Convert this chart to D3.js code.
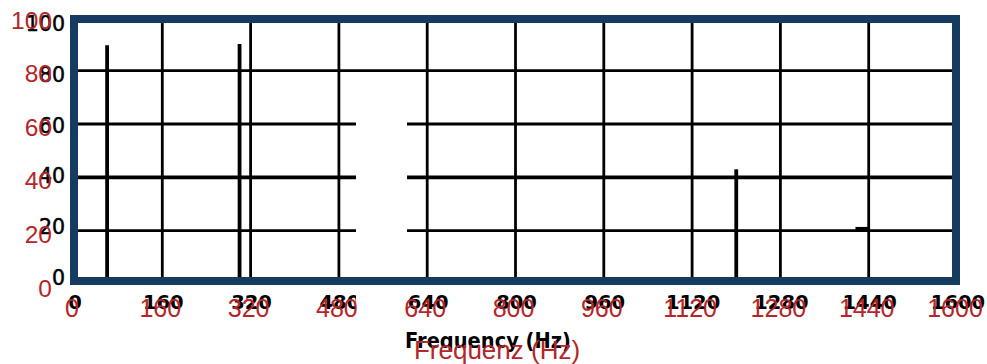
<!DOCTYPE html>
<html>
<head>
<meta charset="utf-8">
<script src="https://cdn.jsdelivr.net/npm/d3@7"></script>
<style>
  html, body { margin: 0; padding: 0; background: #fff; }
  svg { display: block; }
</style>
</head>
<body>
<svg id="chart" width="987" height="364"></svg>
<script>
// Spectrum: frequency (Hz) vs. amplitude
const xTicks = [0, 160, 320, 480, 640, 800, 960, 1120, 1280, 1440, 1600];
const yTicks = [0, 20, 40, 60, 80, 100];
const peakFreqs = [60, 300, 1200];
const peakValues = [89.5, 90, 43];
const stubFrom = [1416];
const stubTo = [1440];
const stubValues = [20.8];
const titleOriginal = "Frequency (Hz)";
const titleTranslated = "Frequenz (Hz)";

const svg = d3.select("#chart");
const frameColor = "#163b61";
const red = "#b3262b";

const x = d3.scaleLinear().domain([0, 1600]).range([74, 957]);
const y = d3.scaleLinear().domain([0, 100]).range([284, 17.3]);
const innerL = 78, innerR = 952, innerT = 23, innerB = 277;

// grid
const grid = svg.append("g");
grid.selectAll("line.h")
  .data(yTicks.filter(d => d > 0 && d < 100))
  .join("line")
  .attr("x1", innerL).attr("x2", innerR)
  .attr("y1", d => y(d)).attr("y2", d => y(d))
  .attr("stroke", "#000")
  .attr("stroke-width", d => d === 40 ? 3.8 : 2.8);
grid.selectAll("line.v")
  .data(xTicks.filter(d => d > 0 && d < 1600))
  .join("line")
  .attr("x1", d => x(d)).attr("x2", d => x(d))
  .attr("y1", innerT).attr("y2", innerB)
  .attr("stroke", "#000")
  .attr("stroke-width", 2.8);

// spectral peaks
svg.append("g").selectAll("line")
  .data(peakFreqs.map((f, i) => ({ f, v: peakValues[i] })))
  .join("line")
  .attr("x1", d => x(d.f)).attr("x2", d => x(d.f))
  .attr("y1", d => y(d.v)).attr("y2", innerB)
  .attr("stroke", "#000")
  .attr("stroke-width", 3.8);

// short horizontal residual near 1440 Hz
svg.append("g").selectAll("line")
  .data(stubValues.map((v, i) => ({ a: stubFrom[i], b: stubTo[i], v })))
  .join("line")
  .attr("x1", d => x(d.a)).attr("x2", d => x(d.b))
  .attr("y1", d => y(d.v)).attr("y2", d => y(d.v))
  .attr("stroke", "#000")
  .attr("stroke-width", 3.2);

// original (black) tick labels
const yLab = d3.scaleLinear().domain([0, 100]).range([278, 24]);
svg.append("g").selectAll("text")
  .data(yTicks)
  .join("text")
  .attr("x", 65).attr("y", d => yLab(d))
  .attr("text-anchor", "end").attr("dominant-baseline", "central")
  .attr("font-family", "DejaVu Sans").attr("font-size", 20.5)
  .attr("fill", "#000").attr("stroke", "#000").attr("stroke-width", 0.5)
  .text(d => d);
svg.append("g").selectAll("text")
  .data(xTicks)
  .join("text")
  .attr("x", d => x(d) + 1).attr("y", 302.5)
  .attr("text-anchor", "middle").attr("dominant-baseline", "central")
  .attr("font-family", "DejaVu Sans").attr("font-weight", "bold").attr("font-size", 19.5)
  .attr("fill", "#000")
  .text(d => d);
svg.append("text")
  .attr("x", 405).attr("y", 348)
  .attr("text-anchor", "start")
  .attr("font-family", "DejaVu Sans").attr("font-weight", "bold").attr("font-size", 21)
  .attr("textLength", 166).attr("lengthAdjust", "spacingAndGlyphs")
  .attr("fill", "#000")
  .text(titleOriginal);

// blank band across the lower grid
svg.append("rect")
  .attr("x", 356).attr("y", 92).attr("width", 51).attr("height", 225)
  .attr("fill", "#fff");

// frame
svg.append("rect")
  .attr("x", 74).attr("y", 19).attr("width", 882).attr("height", 262)
  .attr("fill", "none").attr("stroke", frameColor).attr("stroke-width", 8);

// translated (red) labels
const yRed = d3.scaleLinear().domain([0, 100]).range([288, 20]);
svg.append("g").selectAll("text")
  .data(yTicks)
  .join("text")
  .attr("x", 52).attr("y", d => yRed(d))
  .attr("text-anchor", "end").attr("dominant-baseline", "central")
  .attr("font-family", "Liberation Sans, Arial, sans-serif").attr("font-size", 24.5)
  .attr("fill", red)
  .text(d => d);
svg.append("g").selectAll("text")
  .data(xTicks)
  .join("text")
  .attr("x", d => x(d) - 2).attr("y", 307.5)
  .attr("text-anchor", "middle").attr("dominant-baseline", "central")
  .attr("font-family", "Liberation Sans, Arial, sans-serif").attr("font-size", 25)
  .attr("fill", red)
  .text(d => d);
svg.append("text")
  .attr("x", 497).attr("y", 359)
  .attr("text-anchor", "middle")
  .attr("font-family", "Liberation Sans, Arial, sans-serif").attr("font-size", 26)
  .attr("fill", red)
  .text(titleTranslated);
</script>
</body>
</html>
